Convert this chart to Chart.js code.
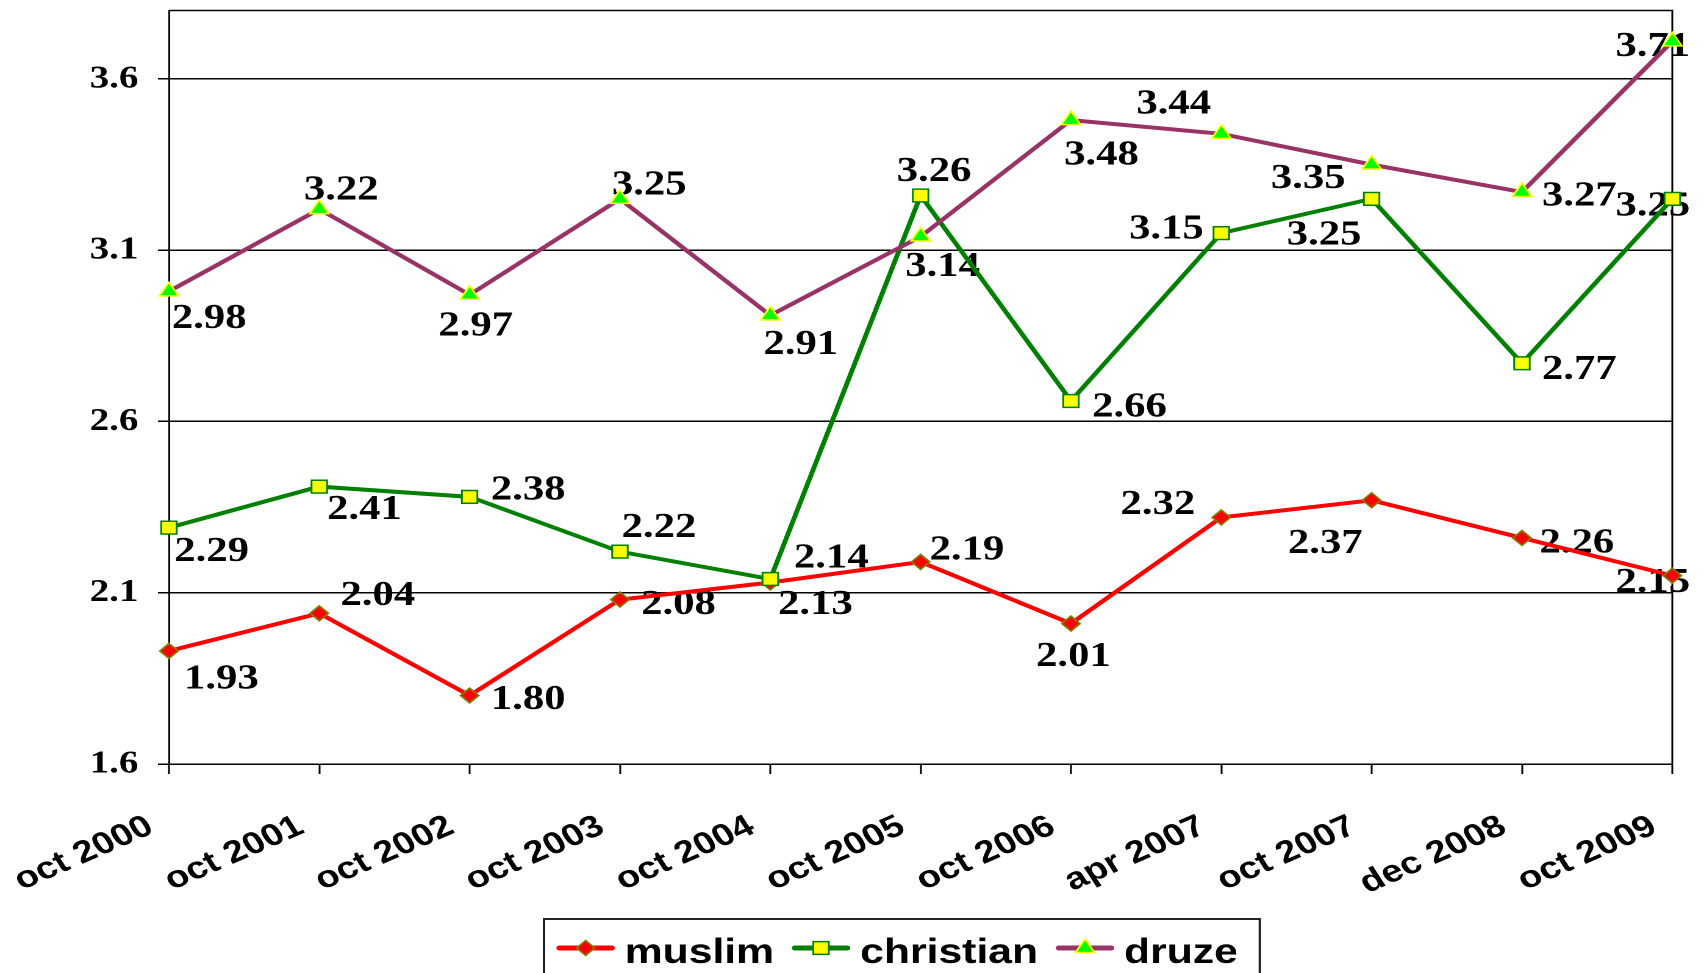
<!DOCTYPE html>
<html>
<head>
<meta charset="utf-8">
<script src="https://cdn.jsdelivr.net/npm/chart.js@4.4.0/dist/chart.umd.min.js"></script>
<style>
  html, body { margin: 0; padding: 0; background: #fff; overflow: hidden; }
  /* the source picture is stretched sideways, so the whole chart is too */
  #wrap { width: 1397px; height: 973px; transform: scaleX(1.21976); transform-origin: 0 0; }
</style>
</head>
<body>
<div id="wrap"><canvas id="chart"></canvas></div>
<script>
const categories = ["oct 2000", "oct 2001", "oct 2002", "oct 2003", "oct 2004", "oct 2005",
  "oct 2006", "apr 2007", "oct 2007", "dec 2008", "oct 2009"];
const muslim = [1.93, 2.04, 1.80, 2.08, 2.13, 2.19, 2.01, 2.32, 2.37, 2.26, 2.15];
const christian = [2.29, 2.41, 2.38, 2.22, 2.14, 3.26, 2.66, 3.15, 3.25, 2.77, 3.25];
const druze = [2.98, 3.22, 2.97, 3.25, 2.91, 3.14, 3.48, 3.44, 3.35, 3.27, 3.71];
const yTicks = [1.6, 2.1, 2.6, 3.1, 3.6];

// where each value label sits relative to its point (dx, dy)
const muslimLabelPos = [[43, 26], [48, -20], [48, 2], [48, 3], [37, 20], [38, -14],
  [2, 31], [-52, -15], [-38, 41], [45, 3], [-16, 5]];
const christianLabelPos = [[35, 22], [37, 21], [48, -9], [32, -26], [50, -23], [11, -26],
  [48, 4], [-45, -6], [-39, 34], [47, 4], [-16, 5]];
const druzeLabelPos = [[33, 25], [18, -21], [5, 29], [24, -16], [25, 27], [18, 28],
  [25, 33], [-39, -32], [-52, 12], [47, 2], [-16, 3]];

const labelPos = [muslimLabelPos, christianLabelPos, druzeLabelPos];

function drawMarker(ctx, style, x, y, r, fill, stroke, bw) {
  ctx.save();
  ctx.beginPath();
  if (style === 'rectRot') {
    ctx.moveTo(x - r, y); ctx.lineTo(x, y - r); ctx.lineTo(x + r, y); ctx.lineTo(x, y + r);
  } else if (style === 'rect') {
    const s = r * Math.SQRT1_2;
    ctx.rect(x - s, y - s, 2 * s, 2 * s);
  } else {
    let a = 0;
    for (let k = 0; k < 3; k++) {
      const px = x + Math.sin(a) * r, py = y - Math.cos(a) * r;
      if (k === 0) ctx.moveTo(px, py); else ctx.lineTo(px, py);
      a += Math.PI * 2 / 3;
    }
  }
  ctx.closePath();
  ctx.fillStyle = fill;
  ctx.fill();
  ctx.lineWidth = bw;
  ctx.strokeStyle = stroke;
  ctx.stroke();
  ctx.restore();
}

const framePlugin = {
  id: 'frame',
  beforeDatasetsDraw(chart) {
    const a = chart.chartArea, ctx = chart.ctx;
    ctx.save();
    ctx.strokeStyle = '#000';
    ctx.lineWidth = 1.5;
    ctx.beginPath();
    ctx.moveTo(a.left, a.top);
    ctx.lineTo(a.right, a.top);
    ctx.lineTo(a.right, a.bottom);
    ctx.stroke();
    ctx.restore();
  }
};

const valueLabels = {
  id: 'valueLabels',
  beforeDatasetsDraw(chart) {
    const ctx = chart.ctx;
    ctx.save();
    ctx.font = 'bold 35px "Liberation Serif"';
    ctx.fillStyle = '#000';
    ctx.textAlign = 'center';
    ctx.textBaseline = 'alphabetic';
    chart.data.datasets.forEach((ds, i) => {
      const meta = chart.getDatasetMeta(i);
      meta.data.forEach((pt, j) => {
        const off = labelPos[i][j];
        ctx.fillText(ds.data[j].toFixed(2), pt.x + off[0], pt.y + off[1] + 11.5);
      });
    });
    ctx.restore();
  }
};

const boxLegend = {
  id: 'boxLegend',
  afterDraw(chart) {
    const ctx = chart.ctx;
    const cy = 948;
    let x = 456.6;
    ctx.save();
    ctx.font = 'bold 35px "Liberation Sans"';
    ctx.textBaseline = 'alphabetic';
    ctx.textAlign = 'left';
    const startX = x;
    chart.data.datasets.forEach((ds, i) => {
      ctx.strokeStyle = ds.borderColor;
      ctx.lineWidth = 5;
      ctx.lineCap = 'round';
      ctx.beginPath();
      ctx.moveTo(x + 2, cy);
      ctx.lineTo(x + 45, cy);
      ctx.stroke();
      drawMarker(ctx, ds.pointStyle, x + 23.5, cy, ds.pointRadius,
        ds.pointBackgroundColor, ds.pointBorderColor, ds.pointBorderWidth);
      x += 47 + 8.5;
      ctx.fillStyle = '#000';
      ctx.fillText(ds.label, x, cy + 15);
      x += ctx.measureText(ds.label).width + 15;
    });
    ctx.strokeStyle = '#222';
    ctx.lineWidth = 2;
    ctx.strokeRect(startX - 10.6, 919, (x - 15 + 18) - (startX - 10.6), 80);
    ctx.restore();
  }
};

new Chart(document.getElementById('chart'), {
  type: 'line',
  data: {
    labels: categories,
    datasets: [
      {
        label: 'muslim', data: muslim, order: 3,
        borderColor: '#FF0000', borderWidth: 4, tension: 0,
        pointStyle: 'rectRot', pointRadius: 7.5,
        pointBackgroundColor: '#FF0000', pointBorderColor: '#808000', pointBorderWidth: 1.5
      },
      {
        label: 'christian', data: christian, order: 2,
        borderColor: '#008000', borderWidth: 4, tension: 0,
        pointStyle: 'rect', pointRadius: 9,
        pointBackgroundColor: '#FFFF00', pointBorderColor: '#008000', pointBorderWidth: 1.5
      },
      {
        label: 'druze', data: druze, order: 1,
        borderColor: '#993366', borderWidth: 4, tension: 0,
        pointStyle: 'triangle', pointRadius: 9,
        pointBackgroundColor: '#00FF00', pointBorderColor: '#FFFF00', pointBorderWidth: 1.5
      }
    ]
  },
  options: {
    responsive: true,
    maintainAspectRatio: false,
    animation: false,
    devicePixelRatio: 2,
    layout: { padding: { top: 3, right: 26, bottom: 79, left: 0 } },
    plugins: { legend: { display: false }, tooltip: { enabled: false } },
    scales: {
      x: {
        offset: false,
        grid: { drawOnChartArea: false, drawTicks: true, tickLength: 10, tickColor: '#000', tickWidth: 1.5 },
        border: { color: '#000', width: 1.5 },
        ticks: {
          color: '#000', autoSkip: false, minRotation: 28, maxRotation: 28,
          padding: 34, labelOffset: -15,
          font: { family: 'Liberation Sans', weight: 'bold', size: 31 }
        },
        afterFit(s) { s.height = 130; s.paddingLeft = 0; s.paddingRight = 0; }
      },
      y: {
        min: 1.6, max: 3.8,
        afterBuildTicks(s) { s.ticks = yTicks.map(v => ({ value: v })); },
        grid: { color: '#000', lineWidth: 1.5, tickLength: 9 },
        border: { color: '#000', width: 1.5 },
        ticks: {
          color: '#000', padding: 16,
          font: { family: 'Liberation Serif', weight: 'bold', size: 32 },
          callback: v => v.toFixed(1)
        },
        afterFit(s) { s.width = 138.5; s.paddingTop = 0; s.paddingBottom = 0; }
      }
    }
  },
  plugins: [framePlugin, valueLabels, boxLegend]
});
</script>
</body>
</html>
